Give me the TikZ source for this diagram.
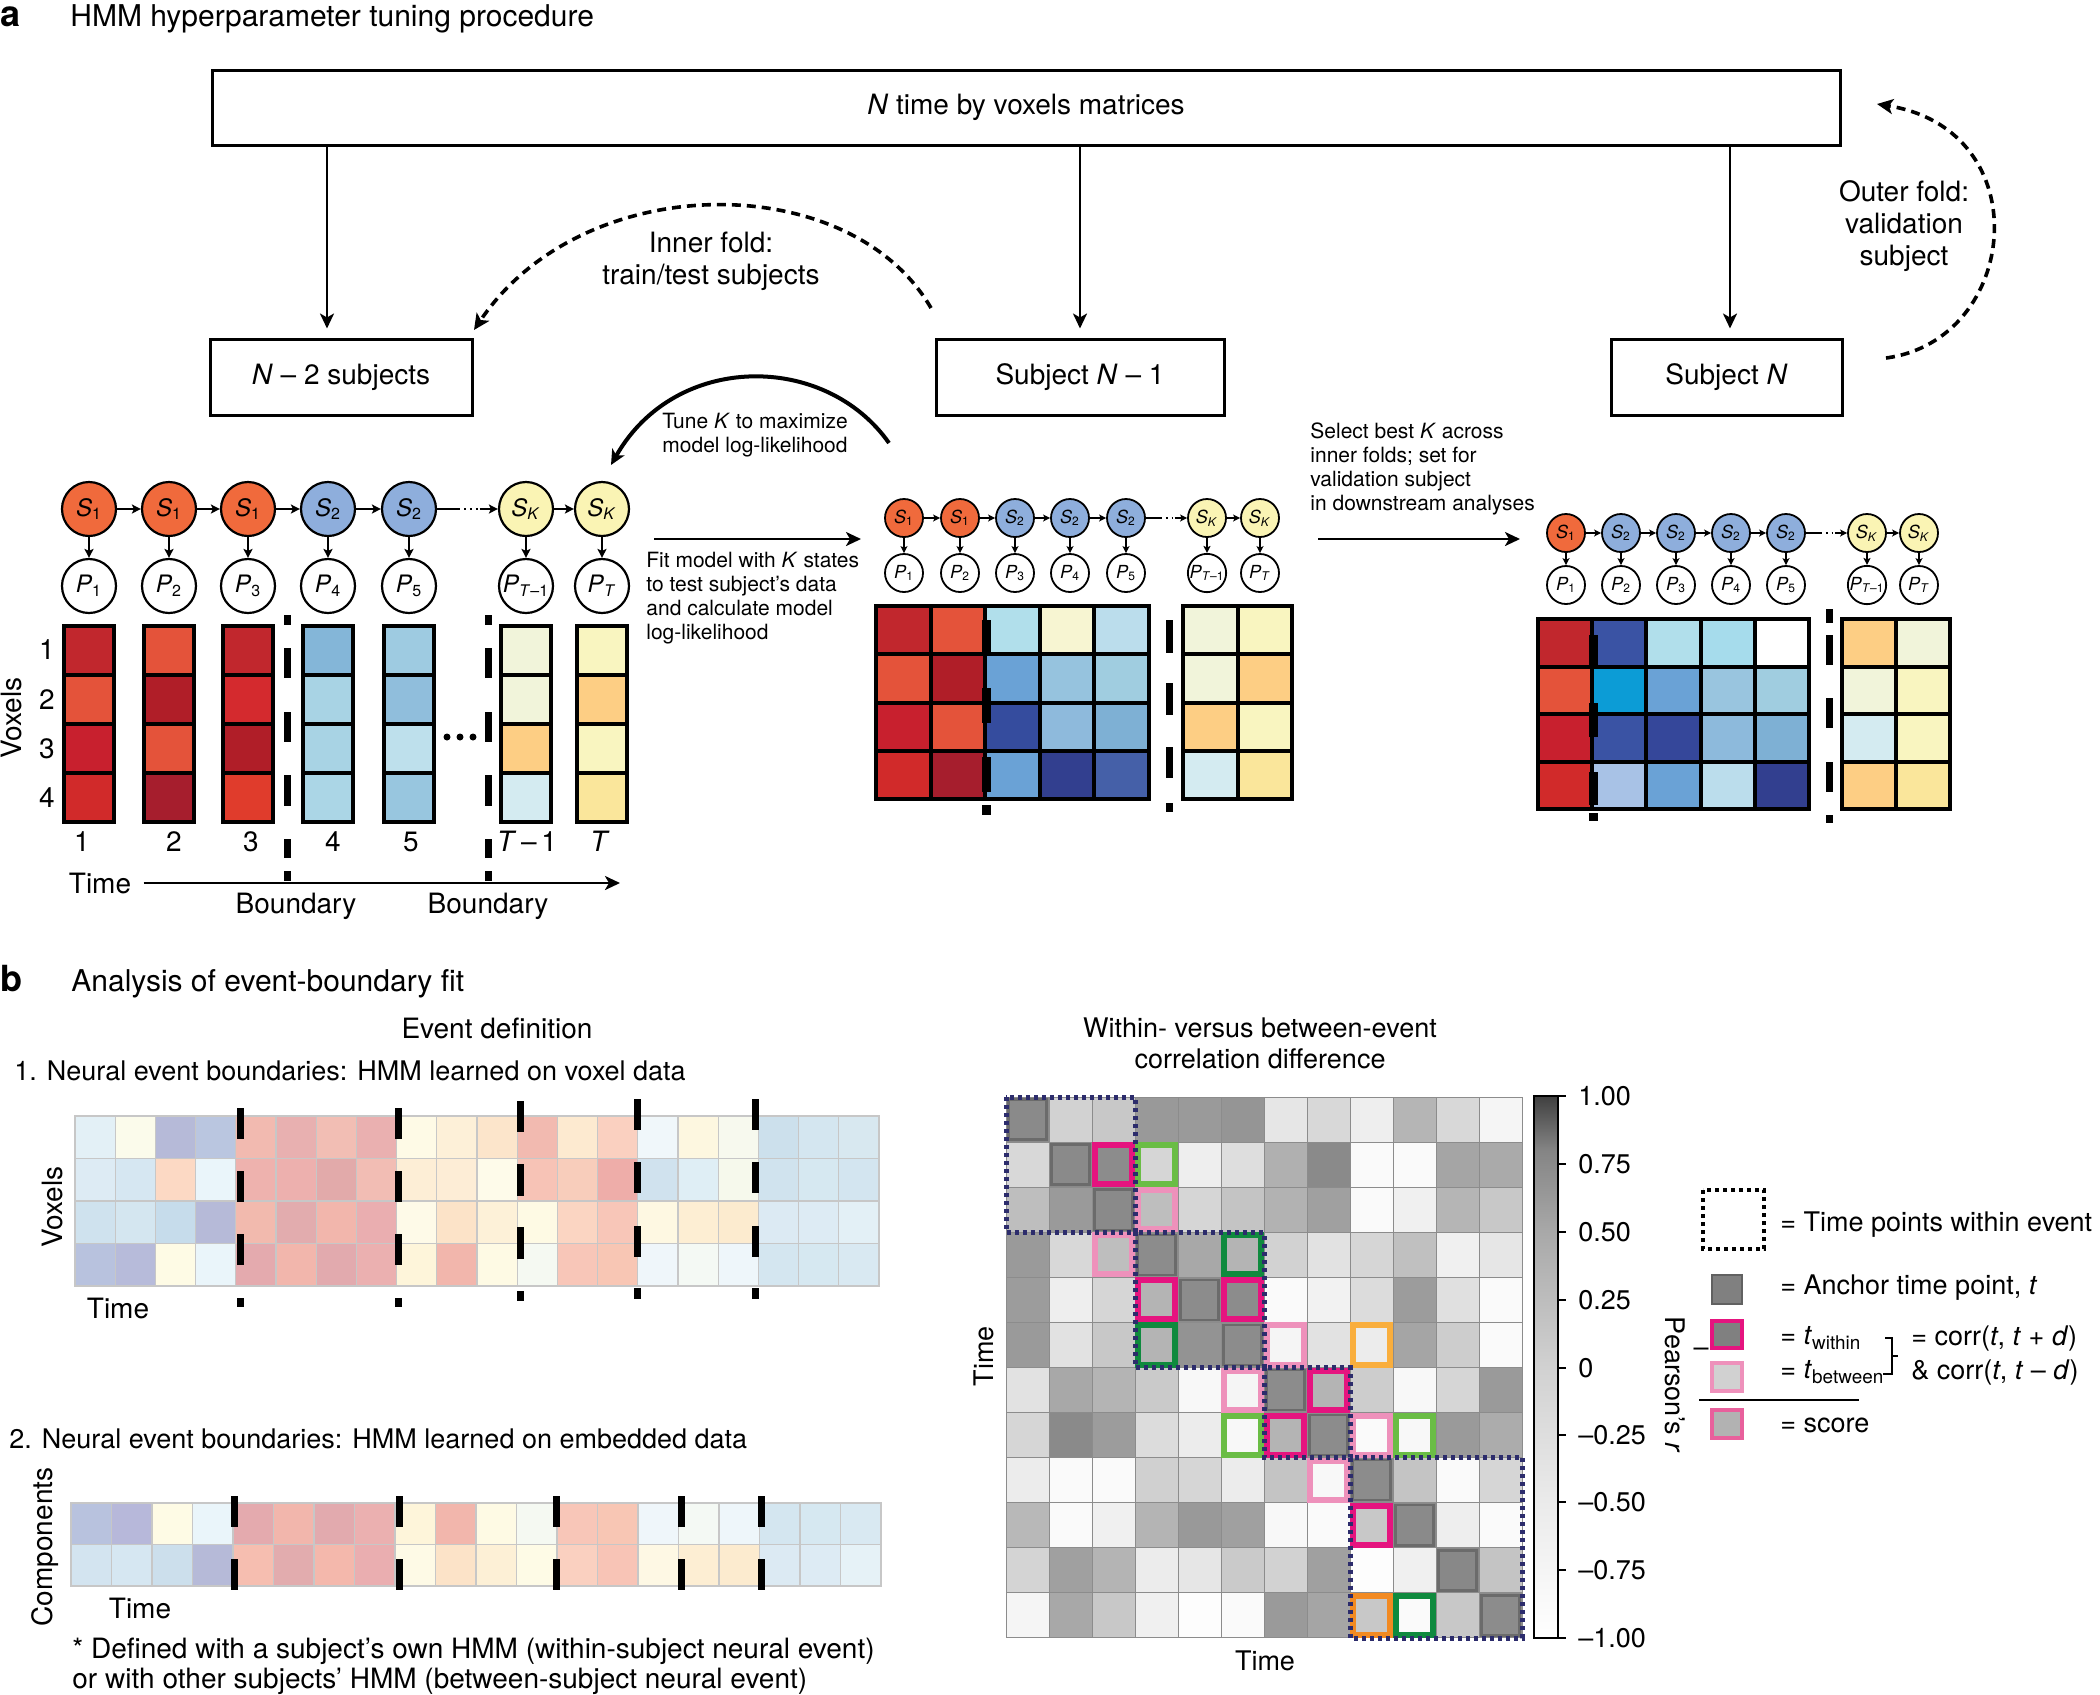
\documentclass[tikz,border=0pt]{standalone}
\usepackage{fontspec}
\setmainfont{TeX Gyre Heros}
\usetikzlibrary{arrows.meta}
\newcommand\fTitle{\fontsize{15pt}{18pt}\selectfont}
\newcommand\fBox{\fontsize{14pt}{16pt}\selectfont}
\newcommand\fLab{\fontsize{13.5pt}{15pt}\selectfont}
\newcommand\fSm{\fontsize{10.5pt}{12pt}\selectfont}
\newcommand\fSa{\fontsize{12pt}{14pt}\selectfont}
\newcommand\fSb{\fontsize{9pt}{11pt}\selectfont}
\newcommand\fPan{\fontsize{18pt}{18pt}\selectfont\bfseries}
\definecolor{cO}{HTML}{F06A3C}
\definecolor{cB}{HTML}{8EAEDC}
\definecolor{cY}{HTML}{FAF4B4}
\definecolor{mag}{HTML}{E5147F}
\definecolor{pnk}{HTML}{EE91BB}
\definecolor{lgr}{HTML}{6ABD45}
\definecolor{dgr}{HTML}{0F8A3E}
\definecolor{org}{HTML}{F9AE3D}
\definecolor{dor}{HTML}{F28A22}
\definecolor{nav}{HTML}{2C2C6C}
\definecolor{scr}{HTML}{E8609C}
\pgfdeclareverticalshading{cbar}{100bp}{color(0bp)=(white); color(25bp)=(white); color(37.5bp)=(white!92!black); color(50bp)=(white!82!black); color(62.5bp)=(white!66!black); color(70bp)=(white!52!black); color(75bp)=(white!25!black); color(100bp)=(white!25!black)}
\begin{document}
\begin{tikzpicture}[x=0.5pt,y=-0.5pt,
  bx/.style={draw, line width=1.5pt, inner sep=0pt, font=\fBox},
  arr/.style={line width=1.3pt, -{Stealth[length=7.5pt,width=7pt,inset=2pt]}},
  darr/.style={line width=1.8pt, dash pattern=on 4.5pt off 3pt, -{Stealth[length=8pt,width=7.5pt,inset=2pt]}},
  sarr/.style={line width=0.9pt, -{Stealth[length=4.5pt,width=4.5pt,inset=1pt]}},
  ssarr/.style={line width=0.8pt, -{Stealth[length=3.5pt,width=3.5pt,inset=0.8pt]}},
  sA/.style={circle, draw, line width=1.1pt, minimum size=27pt, inner sep=0pt, font=\fSa},
  sB/.style={circle, draw, line width=0.9pt, minimum size=19pt, inner sep=0pt, font=\fSb},
  bnd/.style={line width=3.5pt},
  txt/.style={inner sep=0pt},
  evt/.style={draw=nav, line width=2.5pt, dash pattern=on 2pt off 2pt},
]
\fill[white] (0,0) rectangle (2100,1694);
\useasboundingbox (0,0) rectangle (2100,1694);

% ---------------- panel a ----------------
\node[txt, anchor=base west, font=\fPan] (pa) at (0,26) {a};
\node[txt, anchor=base west, font=\fTitle] (ta) at (70,26) {HMM hyperparameter tuning procedure};

\node[bx, minimum width=814pt, minimum height=37.5pt] (top) at (1026,107.5) {\textit{N} time by voxels matrices};
\node[bx, minimum width=131pt, minimum height=38pt] (n2) at (341,377) {\textit{N} – 2 subjects};
\node[bx, minimum width=144pt, minimum height=38pt] (sn1) at (1080,377) {Subject \textit{N} – 1};
\node[bx, minimum width=115.5pt, minimum height=38pt] (sn) at (1726.5,377) {Subject \textit{N}};

\coordinate (xa) at (327,0); \coordinate (xb) at (1080,0); \coordinate (xc) at (1730,0);
\draw[arr, shorten >=4.5pt] (top.south -| xa) -- (n2.north -| xa);
\draw[arr, shorten >=4.5pt] (top.south -| xb) -- (sn1.north -| xb);
\draw[arr, shorten >=4.5pt] (top.south -| xc) -- (sn.north -| xc);

% inner fold
\coordinate (ifA) at (931,308); \coordinate (ifB) at (474,330);
\draw[darr] (ifA) .. controls (850,168) and (583,168) .. (ifB);
\node[align=center, font=\fBox, txt] (ift) at (711,261) {Inner fold:\\train/test subjects};

% outer fold
\coordinate (ofA) at (1886,358); \coordinate (ofB) at (1877,104);
\draw[darr] (ofA) .. controls (2020,340) and (2040,130) .. (ofB);
\node[align=center, font=\fBox, txt] (oft) at (1904,226) {Outer fold:\\validation\\subject};

% tune K
\coordinate (tkA) at (889,443); \coordinate (tkB) at (611,465);
\draw[arr, line width=2pt] (tkA) .. controls (825,352) and (675,352) .. (tkB);
\node[align=center, font=\fSm, txt] (tkt) at (755,435) {Tune \textit{K} to maximize\\model log-likelihood};

% chain 1 columns
\foreach \xc/\cl in {89/{C1272D,E4533A,C8202E,D12A2A},169/{E4533A,B01E28,E4533A,A61E2D},248/{C1272D,D42A2E,B01E28,E03C2C},328/{84B6D8,A8D3E4,A8D3E4,ABD6E6},409/{9ECBE1,90BEDC,BEE0EC,98C6DF},526/{F1F4DA,F1F4DA,FDCE84,D4EBF1},602/{F9F5C0,FDCE84,F9F5C0,FAE69B}}{
  \foreach \cv [count=\rr] in \cl {
    \definecolor{cc}{HTML}{\cv}
    \filldraw[fill=cc, draw=black, line width=2pt] (\xc-25,577+\rr*49) rectangle (\xc+25,626+\rr*49);
  }
}
% chain 1 nodes
\foreach \ii/\xx/\fc/\sl/\pl in {1/89/cO/1/1, 2/169/cO/1/2, 3/248/cO/1/3, 4/328/cB/2/4, 5/409/cB/2/5, 6/526/cY/{\textit{K}}/{\textit{T}–1}, 7/602/cY/{\textit{K}}/{\textit{T}}}{
  \node[sA, fill=\fc] (a\ii) at (\xx,509) {\textit{S}\textsubscript{\sl}};
  \node[sA, fill=white] (ap\ii) at (\xx,586) {\textit{P}\textsubscript{\pl}};
  \draw[sarr] (a\ii) -- (ap\ii);
}
\foreach \ii/\jj in {1/2,2/3,3/4,4/5,6/7} \draw[sarr] (a\ii) -- (a\jj);
\path (a5.east) -- (a6.west) coordinate[pos=0.35] (ad1) coordinate[pos=0.7] (ad2);
\draw[line width=0.9pt] (a5.east) -- (ad1);
\draw[line width=0.9pt, dotted] (ad1) -- (ad2);
\draw[sarr] (ad2) -- (a6.west);

% boundaries chain 1
\foreach \xx in {287,488}{
  \foreach \ya/\yb in {615/625,648/678,712/742,775/806,839/858,871/881}
    \draw[bnd] (\xx,\ya) -- (\xx,\yb);
}
\foreach \yy/\ll [count=\kk] in {650/1,700/2,749/3,798/4}
  \node[font=\fBox, txt] (vr\kk) at (47,\yy) {\ll};
\node[font=\fBox, txt, rotate=90] (vox) at (12,718) {Voxels};
\foreach \xx/\ll [count=\kk] in {82/1,174/2,251/3,333/4,411/5,527/{\textit{T}\,–\,1},600/{\textit{T}}}
  \node[font=\fBox, txt, anchor=base] (cl\kk) at (\xx,851) {\ll};
\fill (447,737) circle (3.5) (460,737) circle (3.5) (473,737) circle (3.5);
\node[font=\fBox, txt] (tm1) at (100,883) {Time};
\coordinate (tmE) at (620,883);
\draw[arr, shorten <=6pt] (tm1.east) -- (tmE);
\node[font=\fBox, txt, anchor=base] (bd1) at (296,913) {Boundary};
\node[font=\fBox, txt, anchor=base] (bd2) at (488,913) {Boundary};

% fit model
\coordinate (fa1) at (654,539); \coordinate (fa2) at (861,539);
\draw[arr] (fa1) -- (fa2);
\node[anchor=west, align=left, font=\fSm, txt] (fit) at (646,598) {Fit model with \textit{K} states\\to test subject’s data\\and calculate model\\log-likelihood};

% chain 2 grid
\foreach \row [count=\ri] in {{C1272D,E4533A,B1DFEB,F7F5D2,BBDDEC,F1F4DA,F9F5C0},{E4533A,B01E28,6AA2D6,96C3DE,A0CDE0,F1F4DA,FDCE84},{C8202E,E4533A,354C9E,8EBADC,7EB0D4,FDCE84,F9F5C0},{D12A2A,A61E2D,6AA2D6,323F8F,4560A8,D4EBF1,FAE69B}}{
  \foreach \cv [count=\ci] in \row {
    \pgfmathsetmacro\xl{\ci<6 ? 876+(\ci-1)*54.6 : 1183+(\ci-6)*54.5}
    \definecolor{cc}{HTML}{\cv}
    \filldraw[fill=cc, draw=black, line width=2pt] (\xl,{606+(\ri-1)*48.25}) rectangle ++(54.6,48.25);
  }
}
\foreach \ii/\xx/\fc/\sl/\pl in {1/904/cO/1/1, 2/960/cO/1/2, 3/1015/cB/2/3, 4/1070/cB/2/4, 5/1126/cB/2/5, 6/1207/cY/{\textit{K}}/{\textit{T}–1}, 7/1260/cY/{\textit{K}}/{\textit{T}}}{
  \node[sB, fill=\fc] (b\ii) at (\xx,518) {\textit{S}\textsubscript{\sl}};
  \node[sB, fill=white] (bp\ii) at (\xx,573) {\textit{P}\textsubscript{\pl}};
  \draw[ssarr] (b\ii) -- (bp\ii);
}
\foreach \ii/\jj in {1/2,2/3,3/4,4/5,6/7} \draw[ssarr] (b\ii) -- (b\jj);
\path (b5.east) -- (b6.west) coordinate[pos=0.35] (bd1c) coordinate[pos=0.7] (bd2c);
\draw[line width=0.8pt] (b5.east) -- (bd1c);
\draw[line width=0.8pt, dotted] (bd1c) -- (bd2c);
\draw[ssarr] (bd2c) -- (b6.west);
\foreach \ya/\yb in {620/653,688/723,757/792,805/815} \draw[line width=4.5pt] (986,\ya) -- (986,\yb);
\foreach \ya/\yb in {620/653,683/715,747/778,803/812} \draw[bnd] (1169,\ya) -- (1169,\yb);

% select best K
\node[anchor=west, align=left, font=\fSm, txt] (sel) at (1310,469) {Select best \textit{K} across\\inner folds; set for\\validation subject\\in downstream analyses};
\coordinate (sa1) at (1318,539); \coordinate (sa2) at (1520,539);
\draw[arr] (sa1) -- (sa2);

% chain 3 grid
\foreach \row [count=\ri] in {{C1272D,3A53A4,B1DFEB,A6DCEC,FFFFFF,FDCE84,F1F4DA},{E4533A,0C9CD6,6AA2D6,99C5DF,A0CDE0,F1F4DA,F9F5C0},{C8202E,3A53A4,35479A,8DBADC,7EB0D4,D4EBF1,F9F5C0},{D12A2A,A8C2E6,6AA2D6,BBDDEC,323F8F,FDCE84,FAE69B}}{
  \foreach \cv [count=\ci] in \row {
    \pgfmathsetmacro\xl{\ci<6 ? 1538+(\ci-1)*54.2 : 1842+(\ci-6)*54}
    \definecolor{cc}{HTML}{\cv}
    \filldraw[fill=cc, draw=black, line width=2pt] (\xl,{619+(\ri-1)*47.5}) rectangle ++(54.2,47.5);
  }
}
\foreach \ii/\xx/\fc/\sl/\pl in {1/1566/cO/1/1, 2/1621/cB/2/2, 3/1676/cB/2/3, 4/1731/cB/2/4, 5/1786/cB/2/5, 6/1867/cY/{\textit{K}}/{\textit{T}–1}, 7/1919/cY/{\textit{K}}/{\textit{T}}}{
  \node[sB, fill=\fc] (c\ii) at (\xx,533) {\textit{S}\textsubscript{\sl}};
  \node[sB, fill=white] (cp\ii) at (\xx,585) {\textit{P}\textsubscript{\pl}};
  \draw[ssarr] (c\ii) -- (cp\ii);
}
\foreach \ii/\jj in {1/2,2/3,3/4,4/5,6/7} \draw[ssarr] (c\ii) -- (c\jj);
\path (c5.east) -- (c6.west) coordinate[pos=0.35] (cd1c) coordinate[pos=0.7] (cd2c);
\draw[line width=0.8pt] (c5.east) -- (cd1c);
\draw[line width=0.8pt, dotted] (cd1c) -- (cd2c);
\draw[ssarr] (cd2c) -- (c6.west);
\foreach \ya/\yb in {635/665,703/737,772/805,813/821} \draw[line width=4.5pt] (1593,\ya) -- (1593,\yb);
\foreach \ya/\yb in {609/623,635/665,698/728,762/792,815/823} \draw[bnd] (1829,\ya) -- (1829,\yb);

% ---------------- panel b ----------------
\node[txt, anchor=base west, font=\fPan] (pb) at (0,991) {b};
\node[txt, anchor=base west, font=\fTitle] (tb) at (71,991) {Analysis of event-boundary fit};
\node[txt, anchor=base, font=\fBox] (evd) at (497,1038) {Event definition};
\node[txt, anchor=base west, font=\fLab] (nb1) at (14,1080) {1. Neural event boundaries: HMM learned on voxel data};

\foreach \row [count=\ri] in {{E3F0F6,FBFBEB,B6BAD8,BAC6E0,F2BAB0,E8B0B0,F2BEB4,EAB0B0,FEFAE6,FDF0D8,FCE5CB,F2BAB0,FDEAD0,FAD0C0,F0F7FA,FDF7E0,F7F9EE,CCE0EC,D4E6F0,D8E8F0},{DDEBF4,D6E7F2,FCD9C4,EAF5FA,EEB2AE,EDB0AE,E2AAAA,F2BDB4,FDEED6,FDEDD6,FEFBEA,F7C3B6,F8CDBB,EEADA9,D0E2EE,DFEEF5,F6F9EC,D0E3EE,D6E8F1,D3E5F0},{CFE2EE,D4E6F0,C6DCEB,B6BAD8,F2BAAE,E2ACAE,F2B6AC,EAAEB0,FEFAE8,FCE3C8,FDF1D8,FEFAE4,FBD5C2,F8C6B8,FEF8E2,FDEED3,FCEBCF,DCEAF3,DDEBF4,E3F0F6},{B8C2DE,B7BBDA,FEFBE5,EAF5FA,E4AAAE,F2B6AC,E2AAAE,EBB0B0,FEF5DA,F2B6AC,FEFAE4,F5F9F2,F8C6B8,F8C6B4,EFF6FA,F4F9F4,EEF6FA,D4E6F0,D6E8F1,D9E9F2}}{
  \foreach \cv [count=\ci] in \row {
    \definecolor{cc}{HTML}{\cv}
    \filldraw[fill=cc, draw=black!22, line width=0.6pt] ({75+(\ci-1)*40.2},{1116+(\ri-1)*42.5}) rectangle ++(40.2,42.5);
  }
}
\foreach \xx in {240,398}{\foreach \ya/\yb in {1108/1139,1171/1202,1234/1265,1298/1307} \draw[bnd] (\xx,\ya) -- (\xx,\yb);}
\foreach \ya/\yb in {1101/1132,1164/1196,1227/1259,1291/1301} \draw[bnd] (520,\ya) -- (520,\yb);
\foreach \xx in {637,755}{\foreach \ya/\yb in {1099/1130,1162/1193,1226/1257,1288/1299} \draw[bnd] (\xx,\ya) -- (\xx,\yb);}
\node[font=\fBox, txt, rotate=90] (vox2) at (53,1207) {Voxels};
\node[font=\fBox, txt] (tm2) at (118,1308) {Time};

\node[txt, anchor=base west, font=\fLab] (nb2) at (9,1448) {2. Neural event boundaries: HMM learned on embedded data};
\foreach \row [count=\ri] in {{B8C2DE,B7B8DA,FEFBE5,EAF5FA,E4AAAE,F2B6AC,E2AAAE,EBB0B0,FEF5DA,F2B6AC,FEFAE4,F5F9F2,F8C6B8,F8C6B4,EFF6FA,F4F9F4,EEF6FA,D4E6F0,D6E8F1,D9E9F2},{D3E4F0,D6E7F2,CCDFEC,B6BAD8,F6BEB0,E2ACAE,F4B8AC,EAAEB0,FEFAE6,FCE3C8,FDF0D6,FEFBE6,FAD0C0,F8C4B6,FEF8E4,FDEED3,FCEBCF,DCEAF3,DDEBF4,E6F2F7}}{
  \foreach \cv [count=\ci] in \row {
    \definecolor{cc}{HTML}{\cv}
    \filldraw[fill=cc, draw=black!22, line width=0.6pt] ({71+(\ci-1)*40.5},{1503+(\ri-1)*41.5}) rectangle ++(40.5,41.5);
  }
}
\foreach \xx in {234,399,556,681,761}{\foreach \ya/\yb in {1496/1527,1559/1590} \draw[bnd] (\xx,\ya) -- (\xx,\yb);}
\node[font=\fBox, txt, rotate=90] (cmp) at (45,1547) {Components};
\node[font=\fBox, txt] (tm3) at (140,1608) {Time};
\node[txt, anchor=base west, font=\fBox] (fn1) at (72,1658) {* Defined with a subject’s own HMM (within-subject neural event)};
\node[txt, anchor=base west, font=\fBox] (fn2) at (72,1688) {or with other subjects’ HMM (between-subject neural event)};

% correlation matrix
\node[txt, anchor=base, font=\fLab] (wt1) at (1260,1037) {Within- versus between-event};
\node[txt, anchor=base, font=\fLab] (wt2) at (1260,1068) {correlation difference};
\foreach \row [count=\ri] in {{138,210,200,153,154,149,230,216,238,181,216,245},{216,138,140,214,238,222,176,138,250,250,165,170},{190,154,138,190,214,196,178,160,250,240,181,200},{154,216,190,140,168,180,210,226,214,192,240,230},{156,238,214,180,140,140,250,242,220,156,224,250},{154,226,200,180,147,140,245,226,236,165,205,250},{226,168,180,202,248,245,140,180,205,248,214,154},{214,138,156,220,236,248,180,140,250,248,154,172},{236,250,250,208,214,236,196,248,140,196,250,214},{184,250,240,180,153,160,248,250,200,138,238,250},{212,160,180,236,230,202,210,160,253,240,136,196},{245,168,200,240,253,250,154,165,200,250,200,140}}{
  \foreach \g [count=\ci] in \row {
    \definecolor{cc}{RGB}{\g,\g,\g}
    \fill[cc] ({1006+(\ci-1)*43},{1097+(\ri-1)*45.08}) rectangle ++(43,45.08);
  }
}
\foreach \kk in {0,...,12}{
  \draw[black!45, line width=0.5pt] ({1006+\kk*43},1097) -- ({1006+\kk*43},1638);
  \draw[black!45, line width=0.5pt] (1006,{1097+\kk*45.08}) -- (1522,{1097+\kk*45.08});
}
\foreach \kk in {1,...,12}
  \draw[black!58, line width=1.2pt] ({1006+(\kk-1)*43+2.5},{1097+(\kk-1)*45.08+2.5}) rectangle ++(38,40.08);
\foreach \ri/\ci/\fc in {2/3/mag,2/4/lgr,3/4/pnk,4/3/pnk,4/6/dgr,5/4/mag,5/6/mag,6/4/dgr,6/7/pnk,6/9/org,7/6/pnk,7/8/mag,8/6/lgr,8/7/mag,8/9/pnk,8/10/lgr,9/8/pnk,10/9/mag,12/9/dor,12/10/dgr}
  \draw[\fc, line width=3pt] ({1006+(\ci-1)*43+3},{1097+(\ri-1)*45.08+3}) rectangle ++(37,39.08);
\draw[evt] (1006,1097) rectangle (1135,1232.2);
\draw[evt] (1135,1232.2) rectangle (1264,1367.4);
\draw[evt] (1264,1367.4) rectangle (1350,1457.6);
\draw[evt] (1350,1457.6) rectangle (1522,1638);
\node[font=\fLab, txt, rotate=90] (tmy) at (984,1356) {Time};
\node[font=\fLab, txt, anchor=base] (tmx) at (1265,1670) {Time};

% colorbar
\shade[shading=cbar] (1534,1096) rectangle (1558,1638);
\draw[line width=1pt] (1534,1096) rectangle (1558,1638);
\foreach \yy/\ll [count=\kk] in {1096/1.00,1164/0.75,1232/0.50,1300/0.25,1368/0,1435/–0.25,1502/–0.50,1570/–0.75,1638/–1.00}{
  \draw[line width=0.8pt] (1558,\yy) -- (1566,\yy);
  \node[anchor=west, font=\fLab, txt] (cb\kk) at (1578,\yy) {\ll};
}
\node[font=\fLab, txt, rotate=-90] (prs) at (1675,1385) {Pearson’s \textit{r}};

% legend
\draw[black, line width=2pt, dash pattern=on 2pt off 2pt] (1703,1190) rectangle (1764,1249);
\node[anchor=west, font=\fLab, txt] (lg1) at (1780,1225) {= Time points within event};
\filldraw[fill=black!50, draw=black!62, line width=1.2pt] (1712,1275) rectangle (1742,1304);
\node[anchor=west, font=\fLab, txt] (lg2) at (1780,1288) {= Anchor time point, \textit{t}};
\filldraw[fill=black!50, draw=mag, line width=1.6pt] (1712,1321) rectangle (1742,1348);
\node[anchor=west, font=\fLab, txt] (lg3) at (1780,1338) {= \textit{t}\textsubscript{within}};
\filldraw[fill=black!18, draw=pnk, line width=1.6pt] (1712,1363) rectangle (1742,1391);
\node[anchor=west, font=\fLab, txt] (lg4) at (1780,1372) {= \textit{t}\textsubscript{between}};
\node[font=\fLab, txt] (lgm) at (1701,1352) {–};
\draw[line width=0.6pt] (1885,1338) -- (1892,1338) -- (1892,1374) -- (1883,1374);
\draw[line width=0.6pt] (1892,1356) -- (1898,1356);
\node[anchor=west, font=\fLab, txt] (lg5) at (1911,1338) {= corr(\textit{t}, \textit{t} + \textit{d})};
\node[anchor=west, font=\fLab, txt] (lg6) at (1911,1372) {\& corr(\textit{t}, \textit{t} – \textit{d})};
\draw[line width=1pt] (1699,1400) -- (1859,1400);
\filldraw[fill=black!30, draw=scr, line width=1.6pt] (1712,1410) rectangle (1742,1438);
\node[anchor=west, font=\fLab, txt] (lg7) at (1780,1425) {= score};
\end{tikzpicture}
\end{document}
